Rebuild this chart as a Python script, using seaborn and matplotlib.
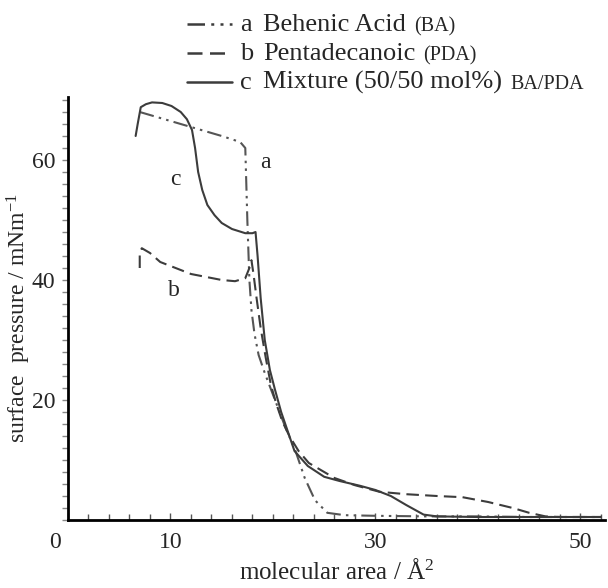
import numpy as np
import matplotlib
matplotlib.use('Agg')
import matplotlib.pyplot as plt
from matplotlib.lines import Line2D
from matplotlib.ticker import MultipleLocator, FixedLocator
from matplotlib.transforms import ScaledTranslation
import pandas as pd
import seaborn as sns

# ---------------- data read off the isotherms ----------------
# a: behenic acid (BA)
a_area = [7.0, 9.0, 12.0, 15.0, 16.8, 17.3, 17.5, 17.7, 17.9, 18.2, 18.6, 19.2, 20.2,
          21.2, 22.2, 23.1, 24.1, 25.3, 27.0, 30.0, 35.0, 40.0, 45.0, 50.0, 52.0]
a_press = [68.0, 67.0, 65.5, 64.0, 63.0, 62.0, 50.0, 40.0, 35.0, 31.0, 27.5, 24.5, 20.0,
           15.5, 11.5, 7.0, 3.3, 1.2, 0.8, 0.7, 0.6, 0.6, 0.5, 0.5, 0.5]

# b: pentadecanoic acid (PDA)
b_area = [7.0, 7.0, 7.2, 8.0, 9.0, 10.5, 12.0, 13.5, 15.0, 16.3, 17.3, 17.7, 17.9,
          18.1, 18.4, 18.8, 19.3, 19.8, 20.3, 20.9, 21.6, 22.5, 23.5, 25.0, 26.0,
          28.0, 30.4, 33.0, 36.0, 38.5, 41.0, 43.4, 45.0, 46.6, 48.0, 50.0, 52.0]
b_press = [42.0, 44.5, 45.3, 44.5, 43.0, 42.0, 41.0, 40.5, 40.0, 39.8, 40.3, 42.0, 43.3,
           41.0, 37.0, 32.0, 27.0, 22.5, 19.5, 16.5, 14.0, 11.5, 9.5, 8.0, 7.0,
           5.8, 4.7, 4.3, 4.0, 3.8, 3.0, 2.0, 1.2, 0.6, 0.5, 0.5, 0.5]

# c: 50/50 mol% mixture BA/PDA
c_area = [6.6, 6.8, 7.1, 7.6, 8.2, 9.2, 10.1, 11.0, 11.6, 12.1, 12.4, 12.7, 13.1,
          13.6, 14.3, 15.0, 16.0, 17.3, 18.0, 18.3, 18.5, 18.8, 19.2, 19.7, 20.2,
          20.8, 21.4, 22.1, 23.4, 25.0, 26.5, 28.5, 30.0, 31.5, 33.0, 34.7, 36.0,
          40.0, 45.0, 50.0, 52.0]
c_press = [64.0, 66.0, 68.8, 69.3, 69.6, 69.5, 69.0, 68.0, 66.8, 65.0, 62.0, 58.0, 55.0,
           52.5, 50.8, 49.5, 48.5, 47.8, 47.8, 48.0, 44.0, 37.0, 30.0, 25.0, 21.7,
           18.0, 15.0, 11.5, 9.0, 7.2, 6.5, 5.7, 5.0, 4.0, 2.5, 0.9, 0.6,
           0.5, 0.5, 0.5, 0.5]

legend_keys = ['a', 'b', 'c']
legend_names = ['Behenic Acid', 'Pentadecanoic', 'Mixture (50/50 mol%)']
legend_small = ['(BA)', '(PDA)', 'BA/PDA']

x_ticks = [0, 10, 30, 50]
y_ticks = [20, 40, 60]

# ---------------- style ----------------
sns.set_style('ticks')
serif = ['Liberation Serif', 'DejaVu Serif']
plt.rcParams['font.family'] = serif
plt.rcParams['mathtext.fontset'] = 'custom'
plt.rcParams['mathtext.rm'] = 'Liberation Serif'
plt.rcParams['mathtext.default'] = 'regular'

dash_a = (7, 2.5, 1.2, 2.5, 1.2, 2.5)
dash_b = (6, 3)
line_col = '#3c3c3c'

fig = plt.figure(figsize=(6.08, 5.88), dpi=100)
ax = fig.add_axes([68/608, 1-520/588, (605-68)/608, (520-97)/588])

df = pd.concat([
    pd.DataFrame({'area': a_area, 'press': a_press, 'film': 'a'}),
    pd.DataFrame({'area': b_area, 'press': b_press, 'film': 'b'}),
    pd.DataFrame({'area': c_area, 'press': c_press, 'film': 'c'}),
])

for film, dash, col in [('a', dash_a, '#555555'), ('b', dash_b, line_col), ('c', None, line_col)]:
    sub = df[df['film'] == film]
    sns.lineplot(data=sub, x='area', y='press', sort=False, estimator=None,
                 color=col, linewidth=1.5, ax=ax)
    if dash is not None:
        ax.lines[-1].set_dashes(dash)

ax.set_xlim(0, 52.4)
ax.set_ylim(0, 70.5)

sns.despine(ax=ax)
for s in ['left', 'bottom']:
    ax.spines[s].set_linewidth(2)
    ax.spines[s].set_color('black')

ax.xaxis.set_major_locator(FixedLocator(x_ticks))
ax.xaxis.set_minor_locator(MultipleLocator(2))
ax.yaxis.set_major_locator(FixedLocator(y_ticks))
ax.yaxis.set_minor_locator(MultipleLocator(2))
ax.tick_params(axis='x', which='both', direction='in', labelsize=17, pad=9, color='#555555')
ax.tick_params(axis='x', which='major', length=5, width=1)
ax.tick_params(axis='x', which='minor', length=4, width=1)
ax.tick_params(axis='y', which='both', direction='out', labelsize=17, pad=5, color='#888888')
ax.tick_params(axis='y', which='major', length=4, width=1)
ax.tick_params(axis='y', which='minor', length=4, width=1)

# the "0" sits a little left of the origin
zero_lab = ax.get_xticklabels()[0]
zero_lab.set_transform(zero_lab.get_transform() + ScaledTranslation(-13/100, 0, fig.dpi_scale_trans))

ax.set_xlabel('molecular area / Å$^2$', fontsize=18, labelpad=4)
ax.set_ylabel('surface  pressure / mNm$^{-1}$', fontsize=17, va='center')
ax.yaxis.set_label_coords((19-68)/537, (520-318)/423)

# curve labels
ax.text(19.3, 59.5, 'a', fontsize=17, ha='center', va='center')
ax.text(10.5, 56.7, 'c', fontsize=17, ha='center', va='center')
ax.text(10.3, 38.3, 'b', fontsize=17, ha='center', va='center')

# ---------------- legend drawn above the axes ----------------
leg_y = [31, 60, 89]   # baselines, px from top
dashes = [dash_a, dash_b, None]
main_texts = []
for key, name, py, dash in zip(legend_keys, legend_names, leg_y, dashes):
    yf = 1 - py/588
    ly = yf + 7/588
    ln = Line2D([187/608, 232/608], [ly, ly], transform=fig.transFigure,
                color=line_col, linewidth=1.8)
    if dash is not None:
        ln.set_dashes(dash)
    fig.add_artist(ln)
    fig.text(240/608, yf, key, fontsize=19, va='baseline', family=serif)
    main_texts.append(fig.text(263/608, yf, name, fontsize=19, va='baseline', family=serif))

fig.canvas.draw()
rend = fig.canvas.get_renderer()
for t, small, py in zip(main_texts, legend_small, leg_y):
    x1 = t.get_window_extent(rend).x1
    fig.text((x1 + 8)/608, 1 - py/588, small, fontsize=14.5, va='baseline', family=serif)

fig.savefig('out.png', dpi=100)
